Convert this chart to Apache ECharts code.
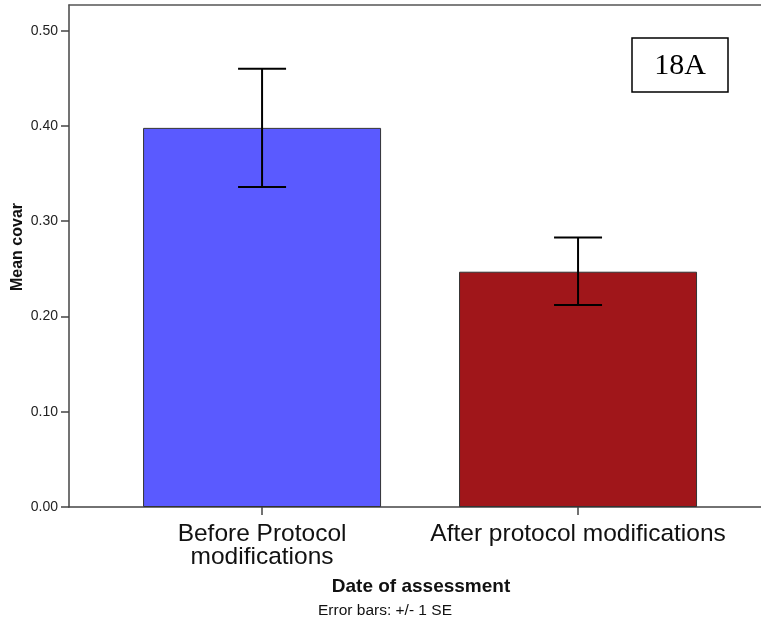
<!DOCTYPE html>
<html>
<head>
<meta charset="utf-8">
<script src="https://cdn.jsdelivr.net/npm/echarts@6/dist/echarts.min.js"></script>
<style>html,body{margin:0;padding:0;background:#fff}#c{width:761px;height:625px}</style>
</head>
<body>
<div id="c"></div>
<script>
var categories = ['Before Protocol\nmodifications', 'After protocol modifications'];
var means = [0.398, 0.247];
var seLow = [0.336, 0.212];
var seHigh = [0.460, 0.283];
var barColors = ['#5A5AFF', '#A0161A'];
var yTicks = [0, 0.1, 0.2, 0.3, 0.4, 0.5];
var catPositions = [0, 1];

var chart = echarts.init(document.getElementById('c'), null, {renderer: 'canvas'});
var font = 'Liberation Sans, Arial, sans-serif';

var barData = means.map(function (v, i) {
  return {value: [catPositions[i], v], itemStyle: {color: barColors[i]}};
});
var errData = means.map(function (v, i) {
  return [catPositions[i], seLow[i], seHigh[i]];
});

var xMin = -0.611, xMax = 1.579;

chart.setOption({
  animation: false,
  backgroundColor: '#fff',
  grid: {left: 69, right: 0, top: 5, bottom: 118, show: false},
  xAxis: [{
    type: 'value',
    min: xMin,
    max: xMax,
    splitLine: {show: false},
    axisLine: {show: true, onZero: false, lineStyle: {color: '#444', width: 1.5}},
    axisTick: {show: true, length: 8, customValues: catPositions, lineStyle: {color: '#444', width: 1.5}},
    axisLabel: {
      customValues: catPositions,
      formatter: function (v) { var i = catPositions.indexOf(Math.round(v)); return i >= 0 ? categories[i] : ''; },
      fontFamily: font, fontSize: 24.5, color: '#111', lineHeight: 23, margin: 16, align: 'center'
    }
  }, {
    type: 'value',
    position: 'top',
    min: xMin,
    max: xMax,
    splitLine: {show: false},
    axisLine: {show: true, onZero: false, lineStyle: {color: '#555', width: 1.5}},
    axisTick: {show: false},
    axisLabel: {show: false}
  }],
  yAxis: {
    type: 'value',
    min: 0,
    max: 0.527,
    splitLine: {show: false},
    axisLine: {show: true, onZero: false, lineStyle: {color: '#444', width: 1.5}},
    axisTick: {show: true, length: 8, customValues: yTicks, lineStyle: {color: '#444', width: 1.5}},
    axisLabel: {
      customValues: yTicks,
      formatter: function (v) { return v.toFixed(2); },
      fontFamily: font, fontSize: 14, color: '#222', margin: 11
    }
  },
  series: [
    {
      type: 'bar',
      data: barData,
      barWidth: 238,
      itemStyle: {borderColor: '#333', borderWidth: 1}
    },
    {
      type: 'custom',
      data: errData,
      z: 10,
      renderItem: function (params, api) {
        var x = api.value(0);
        var lo = api.coord([x, api.value(1)]);
        var hi = api.coord([x, api.value(2)]);
        var hw = 24;
        var style = {stroke: '#000', lineWidth: 2, fill: null};
        return {
          type: 'group',
          children: [
            {type: 'line', shape: {x1: lo[0], y1: lo[1], x2: hi[0], y2: hi[1]}, style: style},
            {type: 'line', shape: {x1: hi[0] - hw, y1: hi[1], x2: hi[0] + hw, y2: hi[1]}, style: style},
            {type: 'line', shape: {x1: lo[0] - hw, y1: lo[1], x2: lo[0] + hw, y2: lo[1]}, style: style}
          ]
        };
      }
    }
  ],
  graphic: [
    {type: 'rect', shape: {x: 632, y: 38, width: 96, height: 54}, style: {fill: '#fff', stroke: '#000', lineWidth: 1.5}, z: 20},
    {type: 'text', x: 680, y: 66, style: {text: '18A', font: '30px "Liberation Serif", "Times New Roman", serif', fill: '#000', textAlign: 'center', textVerticalAlign: 'middle'}, z: 21},
    {type: 'text', x: 18, y: 247, rotation: Math.PI / 2, style: {text: 'Mean covar', font: 'bold 16px ' + font, fill: '#111', textAlign: 'center', textVerticalAlign: 'middle'}},
    {type: 'text', x: 421, y: 587, style: {text: 'Date of assessment', font: 'bold 19px ' + font, fill: '#111', textAlign: 'center', textVerticalAlign: 'middle'}},
    {type: 'text', x: 385, y: 611, style: {text: 'Error bars: +/- 1 SE', font: '15.5px ' + font, fill: '#111', textAlign: 'center', textVerticalAlign: 'middle'}}
  ]
});
</script>
</body>
</html>
